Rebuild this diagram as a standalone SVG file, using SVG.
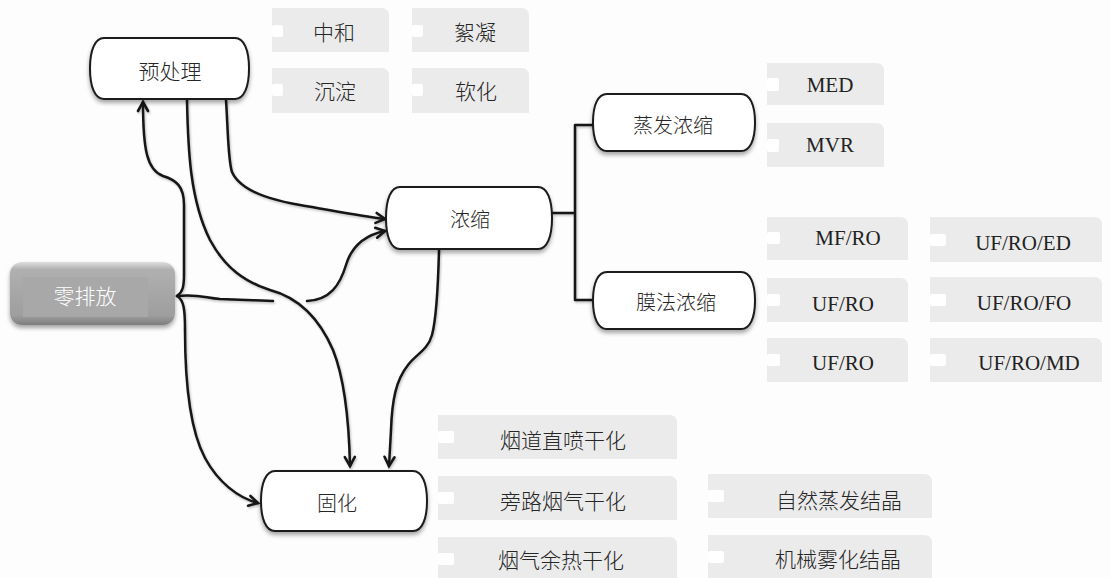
<svg xmlns="http://www.w3.org/2000/svg" width="1110" height="578" viewBox="0 0 1110 578">
<style>
.node{fill:#fff;stroke:#1a1a1a;stroke-width:2;filter:url(#sh)}
.tag{fill:#ebebeb}
.notch{fill:#fff}
.zh{font-family:"Noto Sans CJK SC",sans-serif;font-weight:300;fill:#262626;text-anchor:middle;dominant-baseline:central}
.en{font-family:"Liberation Serif",serif;font-size:21px;fill:#222;text-anchor:middle;dominant-baseline:central}
.c{fill:none;stroke:#151515;stroke-width:2.5;stroke-linecap:round}
</style>
<defs>
<filter id="sh" x="-10%" y="-20%" width="120%" height="160%"><feDropShadow dx="0" dy="3" stdDeviation="2" flood-color="#000" flood-opacity="0.35"/></filter>
<filter id="lsh" x="-10%" y="-10%" width="120%" height="120%"><feDropShadow dx="1" dy="1.5" stdDeviation="1" flood-color="#000" flood-opacity="0.25"/></filter>
<linearGradient id="gz" x1="0" y1="0" x2="0" y2="1">
<stop offset="0" stop-color="#dedede"/><stop offset="0.12" stop-color="#b0b0b0"/><stop offset="0.85" stop-color="#9e9e9e"/><stop offset="1" stop-color="#7e7e7e"/>
</linearGradient>
<marker id="ah" markerUnits="userSpaceOnUse" markerWidth="14" markerHeight="14" refX="10" refY="6" orient="auto" overflow="visible">
<path d="M1,1 L10,6 L1,11" fill="none" stroke="#151515" stroke-width="2.6" stroke-linecap="round" stroke-linejoin="miter"/>
</marker>
</defs>
<rect width="1110" height="578" fill="#fdfdfd"/>

<g id="connectors" filter="url(#lsh)">
<path class="c" d="M177,296 C183,292 184,286 184,274 L184,205 C184,186 176,180 163,176 C147,170 143,150 143,102" marker-end="url(#ah)"/>
<path class="c" d="M177,296 C184,300 185,310 185,330 C185,380 190,430 205,458 C218,482 238,498 258,503" marker-end="url(#ah)"/>
<path class="c" d="M177,296 C200,294 205,298 220,299 L273,301"/>
<path class="c" d="M307,301 C330,300 340,285 346,265 C352,245 365,235 385,231" marker-end="url(#ah)"/>
<path class="c" d="M187,100 C188,150 190,200 210,240 C225,268 245,282 270,290 C300,298 320,320 333,350 C345,380 349,420 350,466" marker-end="url(#ah)"/>
<path class="c" d="M226,100 C228,130 228,160 232,172 C240,190 270,200 300,205 C330,210 360,216 385,219" marker-end="url(#ah)"/>
<path class="c" d="M439,250 C438,290 436,320 432,335 C428,350 415,355 408,365 C396,380 392,400 391,430 L389,466" marker-end="url(#ah)"/>
<path class="c" d="M553,213 H575 M575,125 V300 M575,125 H594 M575,300 H594" stroke="#222" stroke-linecap="butt"/>
</g>

<g id="n-yuchuli">
<path class="node" d="M104,38 H235 C244,38 249,50 249,68.5 C249,87 244,99 235,99 H104 C95,99 90,87 90,68.5 C90,50 95,38 104,38 Z"/>
<text class="zh" x="170" y="70" font-size="21">预处理</text>
</g>
<g id="n-nongsuo">
<path class="node" d="M400,187 H538 C547,187 552,199 552,218 C552,237 547,249 538,249 H400 C391,249 386,237 386,218 C386,199 391,187 400,187 Z"/>
<text class="zh" x="470" y="218" font-size="20">浓缩</text>
</g>
<g id="n-zhengfa">
<path class="node" d="M607,94 H741 C750,94 755,105 755,122.5 C755,140 750,151 741,151 H607 C598,151 593,140 593,122.5 C593,105 598,94 607,94 Z"/>
<text class="zh" x="673" y="124" font-size="20">蒸发浓缩</text>
</g>
<g id="n-mofa">
<path class="node" d="M607,272 H741 C750,272 755,283 755,300.5 C755,318 750,329 741,329 H607 C598,329 593,318 593,300.5 C593,283 598,272 607,272 Z"/>
<text class="zh" x="676" y="301" font-size="20">膜法浓缩</text>
</g>
<g id="n-guhua">
<path class="node" d="M275,471 H413 C422,471 427,483 427,501 C427,519 422,531 413,531 H275 C266,531 261,519 261,501 C261,483 266,471 275,471 Z"/>
<text class="zh" x="337" y="502" font-size="20">固化</text>
</g>
<g id="n-lingpaifang">
<rect x="10" y="262" width="165" height="63" rx="12" fill="url(#gz)" filter="url(#sh)"/>
<rect x="23" y="277" width="125" height="40" fill="#a8a8a8"/>
<text class="zh" x="85" y="295" font-size="21" style="fill:#fff">零排放</text>
</g>

<g id="t-zhonghe"><path class="tag" d="M272,8 H381 Q389,8 389,16 V52 H272 Z"/><rect class="notch" x="272" y="25" width="11" height="12" rx="2"/><text class="zh" x="334" y="31" font-size="21">中和</text></g>
<g id="t-xuning"><path class="tag" d="M412,8 H521 Q529,8 529,16 V52 H412 Z"/><rect class="notch" x="412" y="25" width="11" height="12" rx="2"/><text class="zh" x="475" y="31" font-size="21">絮凝</text></g>
<g id="t-chendian"><path class="tag" d="M272,68 H381 Q389,68 389,76 V113 H272 Z"/><rect class="notch" x="272" y="84" width="11" height="12" rx="2"/><text class="zh" x="335" y="90" font-size="21">沉淀</text></g>
<g id="t-ruanhua"><path class="tag" d="M412,68 H521 Q529,68 529,76 V113 H412 Z"/><rect class="notch" x="412" y="84" width="11" height="12" rx="2"/><text class="zh" x="476" y="90" font-size="21">软化</text></g>

<g id="t-med"><path class="tag" d="M767,63 H876 Q884,63 884,71 V105 H767 Z"/><rect class="notch" x="767" y="78" width="12" height="13" rx="2"/><text class="en" x="830" y="85">MED</text></g>
<g id="t-mvr"><path class="tag" d="M767,123 H876 Q884,123 884,131 V167 H767 Z"/><rect class="notch" x="767" y="139" width="12" height="13" rx="2"/><text class="en" x="830" y="145">MVR</text></g>

<g id="t-mfro"><path class="tag" d="M767,217 H900 Q908,217 908,225 V260 H767 Z"/><rect class="notch" x="767" y="232" width="13" height="12" rx="2"/><text class="en" x="848" y="238">MF/RO</text></g>
<g id="t-ufro1"><path class="tag" d="M767,278 H900 Q908,278 908,286 V322 H767 Z"/><rect class="notch" x="767" y="294" width="13" height="12" rx="2"/><text class="en" x="843" y="304">UF/RO</text></g>
<g id="t-ufro2"><path class="tag" d="M767,338 H900 Q908,338 908,346 V382 H767 Z"/><rect class="notch" x="767" y="354" width="13" height="12" rx="2"/><text class="en" x="843" y="363">UF/RO</text></g>
<g id="t-ufroed"><path class="tag" d="M930,217 H1094 Q1102,217 1102,225 V262 H930 Z"/><rect class="notch" x="930" y="234" width="16" height="12" rx="2"/><text class="en" x="1023" y="243">UF/RO/ED</text></g>
<g id="t-ufrofo"><path class="tag" d="M930,277 H1094 Q1102,277 1102,285 V322 H930 Z"/><rect class="notch" x="930" y="294" width="16" height="12" rx="2"/><text class="en" x="1024" y="303">UF/RO/FO</text></g>
<g id="t-ufromd"><path class="tag" d="M930,338 H1094 Q1102,338 1102,346 V382 H930 Z"/><rect class="notch" x="930" y="354" width="16" height="12" rx="2"/><text class="en" x="1029" y="363">UF/RO/MD</text></g>

<g id="t-yandao"><path class="tag" d="M438,415 H669 Q677,415 677,423 V459 H438 Z"/><rect class="notch" x="438" y="431" width="16" height="12" rx="2"/><text class="zh" x="563" y="439" font-size="21">烟道直喷干化</text></g>
<g id="t-panglu"><path class="tag" d="M438,476 H669 Q677,476 677,484 V520 H438 Z"/><rect class="notch" x="438" y="492" width="16" height="12" rx="2"/><text class="zh" x="563" y="500" font-size="21">旁路烟气干化</text></g>
<g id="t-yuure"><path class="tag" d="M438,537 H669 Q677,537 677,545 V578 H438 Z"/><rect class="notch" x="438" y="553" width="16" height="12" rx="2"/><text class="zh" x="561" y="559" font-size="21">烟气余热干化</text></g>
<g id="t-ziran"><path class="tag" d="M708,474 H924 Q932,474 932,482 V518 H708 Z"/><rect class="notch" x="708" y="490" width="16" height="12" rx="2"/><text class="zh" x="839" y="499" font-size="21">自然蒸发结晶</text></g>
<g id="t-jixie"><path class="tag" d="M708,535 H924 Q932,535 932,543 V578 H708 Z"/><rect class="notch" x="708" y="551" width="16" height="12" rx="2"/><text class="zh" x="838" y="558" font-size="21">机械雾化结晶</text></g>
</svg>
